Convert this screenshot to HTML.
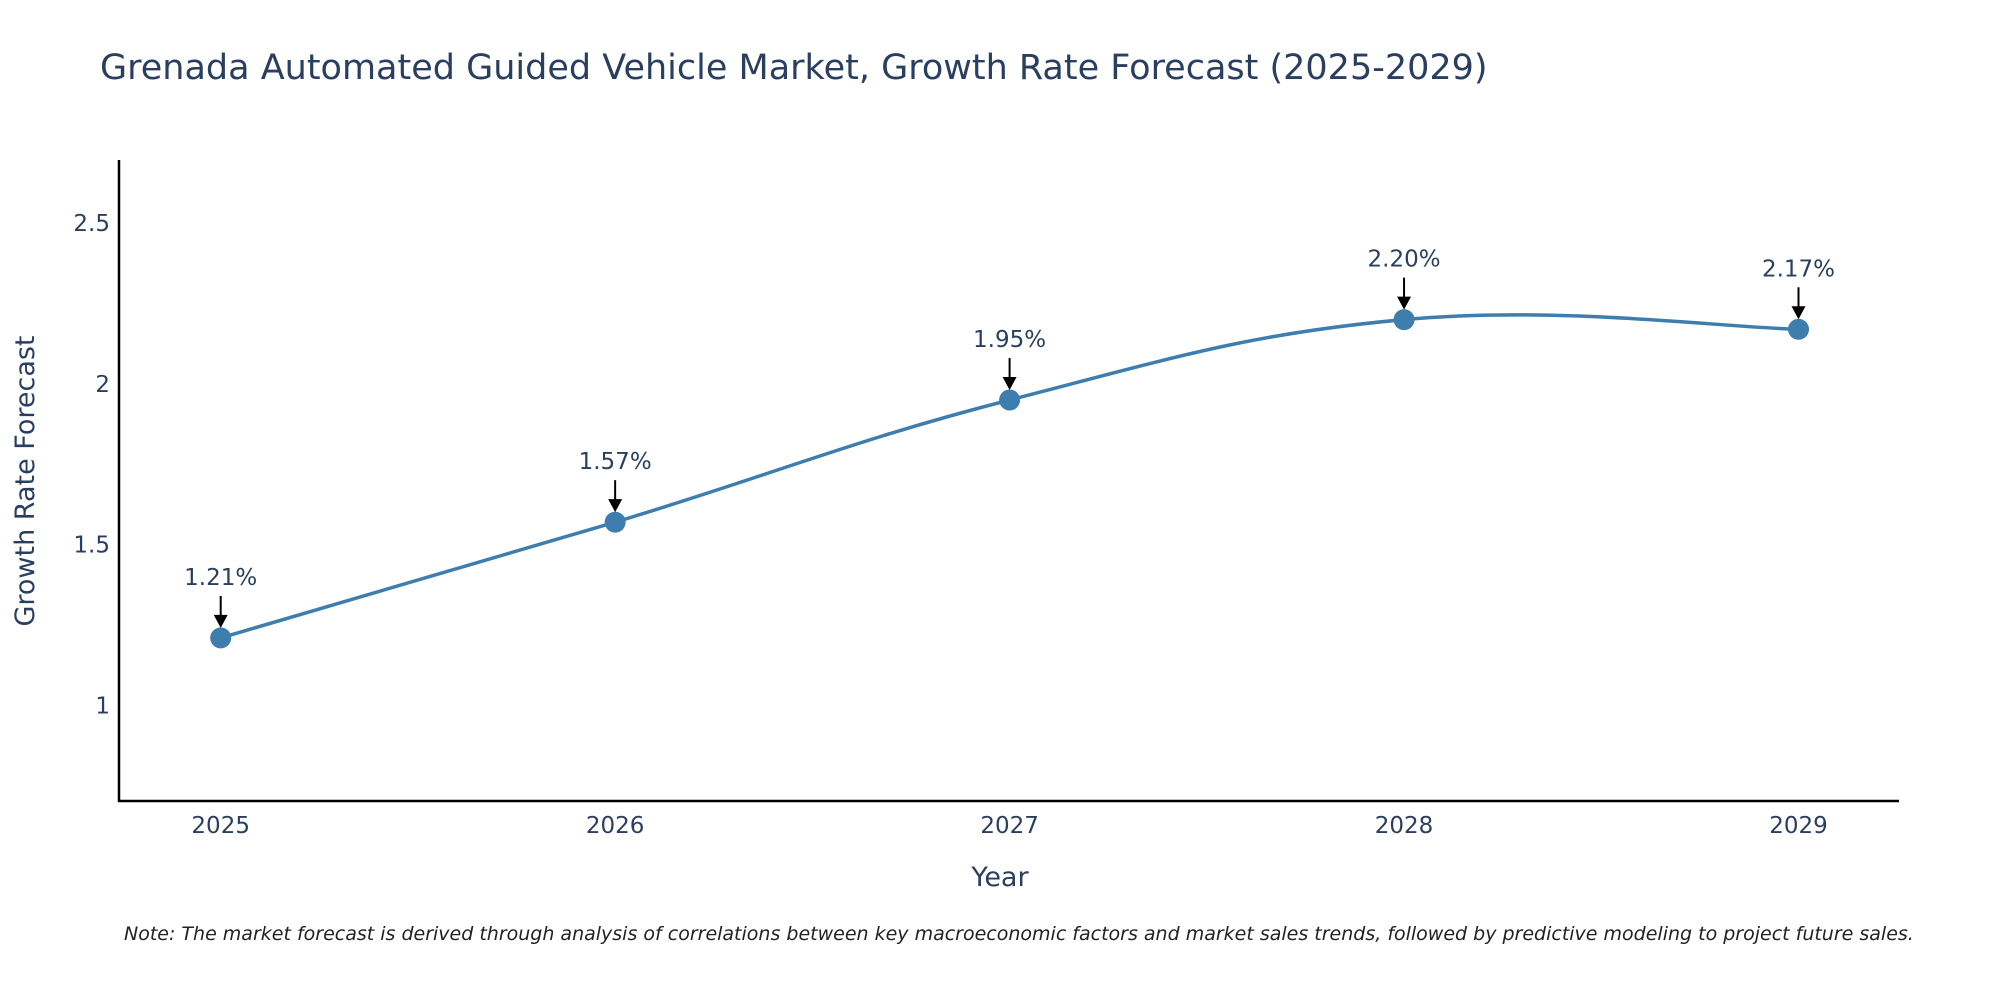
<!DOCTYPE html>
<html><head><meta charset="utf-8"><style>
body{margin:0;background:#fff;overflow:hidden;}
svg{display:block;font-family:"DejaVu Sans","Liberation Sans",sans-serif;}
</style></head><body>
<svg width="2000" height="1000" viewBox="0 0 2000 1000">
<text x="100" y="79" font-size="35" fill="#2a3f5f">Grenada Automated Guided Vehicle Market, Growth Rate Forecast (2025-2029)</text>
<g id="yticks"></g>
<g id="xticks"></g>
<line x1="119" y1="160" x2="119" y2="802" stroke="#000" stroke-width="2.5"/>
<line x1="118" y1="801" x2="1899" y2="801" stroke="#000" stroke-width="2.5"/>
<path id="line" fill="none" stroke="#3d7eae" stroke-width="3.5"/>
<g id="marks"></g>
<text x="1000" y="886" font-size="27" fill="#2a3f5f" text-anchor="middle">Year</text>
<text transform="translate(34,481) rotate(-90)" font-size="27" fill="#2a3f5f" text-anchor="middle">Growth Rate Forecast</text>
<text x="124" y="940" font-size="19" font-style="italic" fill="#222">Note: The market forecast is derived through analysis of correlations between key macroeconomic factors and market sales trends, followed by predictive modeling to project future sales.</text>
</svg>
<script>
const years=[2025,2026,2027,2028,2029];
const values=[1.21,1.57,1.95,2.20,2.17];
const labels=["1.21%","1.57%","1.95%","2.20%","2.17%"];
const yTicks=[1,1.5,2,2.5];
const yTickLabels=["1","1.5","2","2.5"];
const ns="http://www.w3.org/2000/svg";
const X=v=>220.7+(v-2025)*(1798.5-220.7)/4;
const Y=v=>705.4-(v-1)*(705.4-223.2)/1.5;
function mk(tag,attrs,parent,txt){const e=document.createElementNS(ns,tag);for(const k in attrs)e.setAttribute(k,attrs[k]);if(txt!==undefined)e.textContent=txt;parent.appendChild(e);return e;}
const yt=document.getElementById('yticks');
yTicks.forEach((t,i)=>{const e=mk('text',{x:110,y:Y(t)+8,'font-size':23,fill:'#2a3f5f','text-anchor':'end'},yt,yTickLabels[i]);

});
const xt=document.getElementById('xticks');
years.forEach(y=>{const e=mk('text',{x:X(y),y:833,'font-size':23,fill:'#2a3f5f','text-anchor':'middle'},xt,String(y));

});
const pts=years.map((y,i)=>[X(y),Y(values[i])]);
let d=`M${pts[0][0]},${pts[0][1]}`;
const s=0.2;
for(let i=0;i<pts.length-1;i++){
 const p0=pts[Math.max(i-1,0)],p1=pts[i],p2=pts[i+1],p3=pts[Math.min(i+2,pts.length-1)];
 const c1=[p1[0]+(p2[0]-p0[0])*s,p1[1]+(p2[1]-p0[1])*s];
 const c2=[p2[0]-(p3[0]-p1[0])*s,p2[1]-(p3[1]-p1[1])*s];
 d+=` C${c1[0]},${c1[1]} ${c2[0]},${c2[1]} ${p2[0]},${p2[1]}`;
}
document.getElementById('line').setAttribute('d',d);
const g=document.getElementById('marks');
pts.forEach((p,i)=>{
 const c=mk('circle',{cx:p[0],cy:p[1],r:10.5,fill:'#3d7eae'},g);
 
 
 const l=mk('line',{x1:p[0],y1:p[1]-42,x2:p[0],y2:p[1]-22,stroke:'#000','stroke-width':2},g);
 
 
 const a=mk('polygon',{points:`${p[0]-7},${p[1]-23} ${p[0]+7},${p[1]-23} ${p[0]},${p[1]-10}`,fill:'#000'},g);
 
 
 const t=mk('text',{x:p[0],y:p[1]-53,'font-size':23,fill:'#2a3f5f','text-anchor':'middle'},g,labels[i]);
 
 
});
</script>
</body></html>
